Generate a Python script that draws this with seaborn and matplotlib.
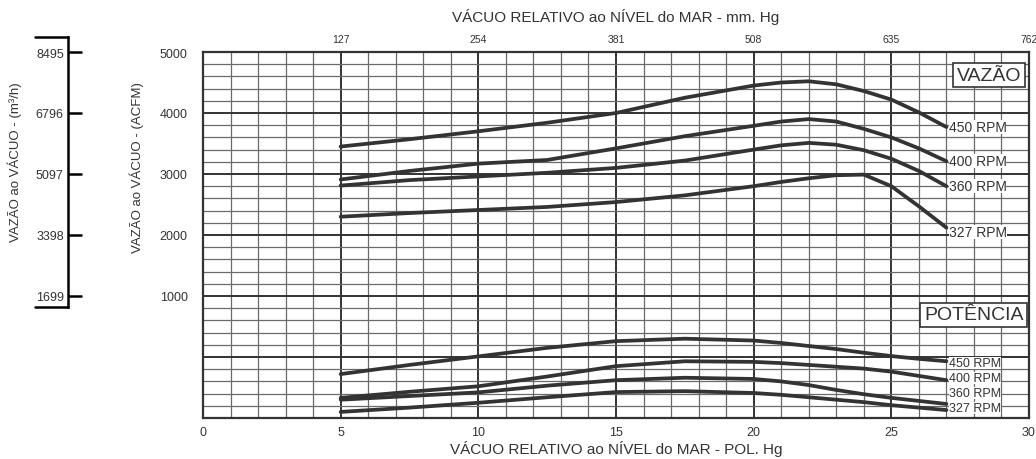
import pandas as pd
import numpy as np
import matplotlib
matplotlib.use("Agg")
import matplotlib.pyplot as plt
import matplotlib.ticker as mticker
from matplotlib.transforms import blended_transform_factory
import seaborn as sns

# vacuum (inches Hg) where the curves were read
vacuum_inhg = [5, 7.5, 10, 12.5, 15, 17.5, 20, 21, 22, 23, 24, 25, 26, 27]
rpm_labels = ["450 RPM", "400 RPM", "360 RPM", "327 RPM"]

# flow (ACFM)
flow_450 = [3450, 3570, 3700, 3840, 4000, 4250, 4450, 4500, 4520, 4470, 4360, 4220, 4010, 3770]
flow_400 = [2910, 3050, 3170, 3230, 3420, 3620, 3790, 3860, 3900, 3860, 3740, 3600, 3420, 3210]
flow_360 = [2810, 2900, 2960, 3020, 3100, 3220, 3400, 3470, 3510, 3480, 3390, 3250, 3050, 2800]
flow_327 = [2300, 2360, 2410, 2460, 2540, 2650, 2800, 2870, 2930, 2980, 2990, 2800, 2470, 2120]

# power curves (no scale on the chart, in grid units of the lower band)
power_450 = [-280, -130, 10, 150, 260, 300, 270, 230, 180, 130, 70, 15, -30, -70]
power_400 = [-670, -570, -480, -320, -150, -70, -80, -100, -130, -160, -190, -240, -310, -380]
power_360 = [-700, -640, -580, -470, -380, -340, -360, -400, -460, -540, -610, -670, -720, -770]
power_327 = [-900, -830, -750, -660, -575, -560, -590, -620, -660, -700, -740, -790, -830, -870]

acfm_ticks = [1000, 2000, 3000, 4000, 5000]
m3h_ticks = [1699, 3398, 5097, 6796, 8495]
inhg_ticks = [0, 5, 10, 15, 20, 25, 30]
mmhg_ticks = [127, 254, 381, 508, 635, 762]

flows = [flow_450, flow_400, flow_360, flow_327]
powers = [power_450, power_400, power_360, power_327]
rows = []
for lab, fl, pw in zip(rpm_labels, flows, powers):
    for x, f, p in zip(vacuum_inhg, fl, pw):
        rows.append({"vac": x, "value": f, "curve": "flow " + lab})
        rows.append({"vac": x, "value": p, "curve": "power " + lab})
df = pd.DataFrame(rows)

sns.set_style("white")
plt.rcParams["font.family"] = ["Liberation Sans", "DejaVu Sans"]
ink = "#333333"

fig = plt.figure(figsize=(10.36, 4.6), dpi=100)
W, H = 1036, 460
ax = fig.add_axes([203 / W, 1 - 419 / H, 826 / W, 366 / H])

sns.lineplot(data=df, x="vac", y="value", hue="curve", units="curve",
             estimator=None, palette=[ink] * df["curve"].nunique(),
             linewidth=2.7, legend=False, ax=ax, sort=False, zorder=5)

ax.set_xlim(0, 30)
ax.set_ylim(-1000, 5000)
ax.xaxis.set_major_locator(mticker.FixedLocator(inhg_ticks))
ax.xaxis.set_minor_locator(mticker.MultipleLocator(1))
ax.yaxis.set_major_locator(mticker.MultipleLocator(1000))
ax.yaxis.set_minor_locator(mticker.MultipleLocator(200))
ax.yaxis.set_major_formatter(mticker.FuncFormatter(
    lambda v, p: f"{int(v)}" if v in acfm_ticks else ""))
ax.grid(which="minor", color="#6a6a6a", linewidth=0.9)
ax.grid(which="major", color=ink, linewidth=1.4)
ax.set_axisbelow(True)
for s in ax.spines.values():
    s.set_color(ink)
    s.set_linewidth(1.6)
ax.tick_params(axis="both", which="both", length=0, colors=ink)
ax.tick_params(axis="y", pad=11, labelsize=9)
ax.tick_params(axis="x", pad=6, labelsize=9)
ax.set_xlabel("VÁCUO RELATIVO ao NÍVEL do MAR - POL. Hg", fontsize=11, color=ink, labelpad=1)
ax.set_ylabel("")

# top axis in mm Hg
sec = ax.secondary_xaxis("top", functions=(lambda v: v * 25.4, lambda m: m / 25.4))
sec.set_xticks(mmhg_ticks)
sec.tick_params(length=0, pad=6, labelsize=7.5, colors=ink)
sec.spines["top"].set_visible(False)
sec.set_xlabel("VÁCUO RELATIVO ao NÍVEL do MAR - mm. Hg", fontsize=11, color=ink, labelpad=9)

# curve labels
flow_lab_off = [0, 0, 0, -70]
power_lab_off = [-30, 36, 180, 34]
for lab, fl, pw, fo, po in zip(rpm_labels, flows, powers, flow_lab_off, power_lab_off):
    ax.text(vacuum_inhg[-1] + 0.08, fl[-1] + fo, lab, fontsize=10, color=ink,
            ha="left", va="center", zorder=6,
            bbox=dict(facecolor="white", edgecolor="none", pad=0.0))
    ax.text(vacuum_inhg[-1] + 0.08, pw[-1] + po, lab, fontsize=9, color=ink,
            ha="left", va="center", zorder=6,
            bbox=dict(facecolor="white", edgecolor="none", pad=0.0))

ax.text(29.72, 4620, "VAZÃO", fontsize=14, color=ink, ha="right", va="center", zorder=6,
        bbox=dict(facecolor="white", edgecolor=ink, linewidth=1.2, pad=2.5))
ax.text(29.8, 690, "POTÊNCIA", fontsize=14, color=ink, ha="right", va="center", zorder=6,
        bbox=dict(facecolor="white", edgecolor=ink, linewidth=1.2, pad=2.5))

# left bracket axis in m3/h
k = 1.699
ax2 = fig.add_axes([68 / W, 1 - 419 / H, 0.0001, 366 / H])
ax2.set_ylim(-1000 * k, 5000 * k)
ax2.set_xlim(0, 1)
ax2.set_yticks(m3h_ticks)
ax2.set_yticklabels([str(t) for t in m3h_ticks])
ax2.set_xticks([])
for name, s in ax2.spines.items():
    s.set_visible(name == "left")
top_b, bot_b = 8913, 1393
ax2.spines["left"].set_bounds(bot_b, top_b)
ax2.spines["left"].set_color("black")
ax2.spines["left"].set_linewidth(1.8)
ax2.tick_params(axis="y", left=True, direction="in", length=10, width=1.8, pad=3,
                labelsize=9, colors="black", labelcolor=ink)
ax2.patch.set_visible(False)
tr = blended_transform_factory(fig.transFigure, ax2.transData)
for yb in (top_b, bot_b):
    ax2.plot([35 / W, 68 / W], [yb, yb], color="black", lw=1.8, transform=tr, clip_on=False)

fig.text(15 / W, 1 - 162 / H, "VAZÃO ao VÁCUO - (m³/h)", rotation=90, fontsize=9.5,
         color=ink, ha="center", va="center")
fig.text(137 / W, 1 - 168 / H, "VAZÃO ao VÁCUO - (ACFM)", rotation=90, fontsize=9.5,
         color=ink, ha="center", va="center")

fig.savefig("out.png", dpi=100)
